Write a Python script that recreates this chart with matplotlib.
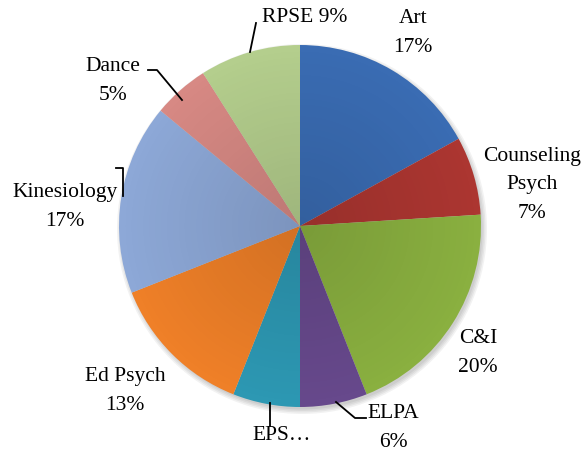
import numpy as np
import matplotlib.pyplot as plt
from matplotlib.patches import Circle

plt.rcParams['font.family'] = ['Liberation Serif', 'DejaVu Serif']

categories = ['Art', 'Counseling Psych', 'C&I', 'ELPA', 'EPS', 'Ed Psych',
              'Kinesiology', 'Dance', 'RPSE']
values = [17, 7, 20, 6, 6, 13, 17, 5, 9]
colors = ['#3A6CB3', '#AC3631', '#8AB040', '#67498C', '#2D98B3', '#EF8028',
          '#8DA8D7', '#D78984', '#B4CE8D']

W, H = 588, 458
fig = plt.figure(figsize=(W / 100, H / 100), dpi=100)
ax = fig.add_axes([0, 0, 1, 1])

cx, cy, r = 300, H - 226, 181

# soft shadow
for i in range(4):
    ax.add_patch(Circle((cx + 2, cy - 3), r + 4 - i * 1.5, color='black',
                        alpha=0.05, lw=0, zorder=0))

wedges, _ = ax.pie(values, colors=colors, startangle=90, counterclock=False,
                   center=(cx, cy), radius=r, frame=True,
                   wedgeprops=dict(linewidth=0))

# slight darkening towards the centre
yy, xx = np.mgrid[-1:1:300j, -1:1:300j]
rr = np.sqrt(xx ** 2 + yy ** 2)
shade = np.zeros((300, 300, 4))
shade[..., 3] = np.clip(0.12 * (1 - rr), 0, 1)
im = ax.imshow(shade, extent=(cx - r, cx + r, cy - r, cy + r), zorder=3,
               interpolation='bilinear')
im.set_clip_path(Circle((cx, cy), r, transform=ax.transData))

ax.set_xlim(0, W)
ax.set_ylim(0, H)
ax.set_aspect('equal')
ax.axis('off')

fs = 15.5
def lab(x, y, s):
    ax.text(x, H - y, s, ha='center', va='center', fontsize=fs,
            linespacing=1.7, color='black')

lab(305, 18, 'RPSE 9%')
lab(413, 33, 'Art\n17%')
lab(532, 185, 'Counseling\nPsych\n7%')
lab(478, 353, 'C&I\n20%')
lab(393, 428, 'ELPA\n6%')
lab(282, 436, 'EPS…')
lab(125, 391, 'Ed Psych\n13%')
lab(65, 207, 'Kinesiology\n17%')
lab(113, 81, 'Dance\n5%')

def leader(xs, ys):
    ax.plot(xs, [H - y for y in ys], color='black', lw=1.3, zorder=5)

leader([250, 256], [52, 23])
leader([336, 355, 366], [402, 418, 418])
leader([270, 270], [403, 426])
leader([116, 123, 123], [168, 168, 196])
leader([148, 157, 182], [70, 70, 100])

fig.savefig('out.png', dpi=100)
